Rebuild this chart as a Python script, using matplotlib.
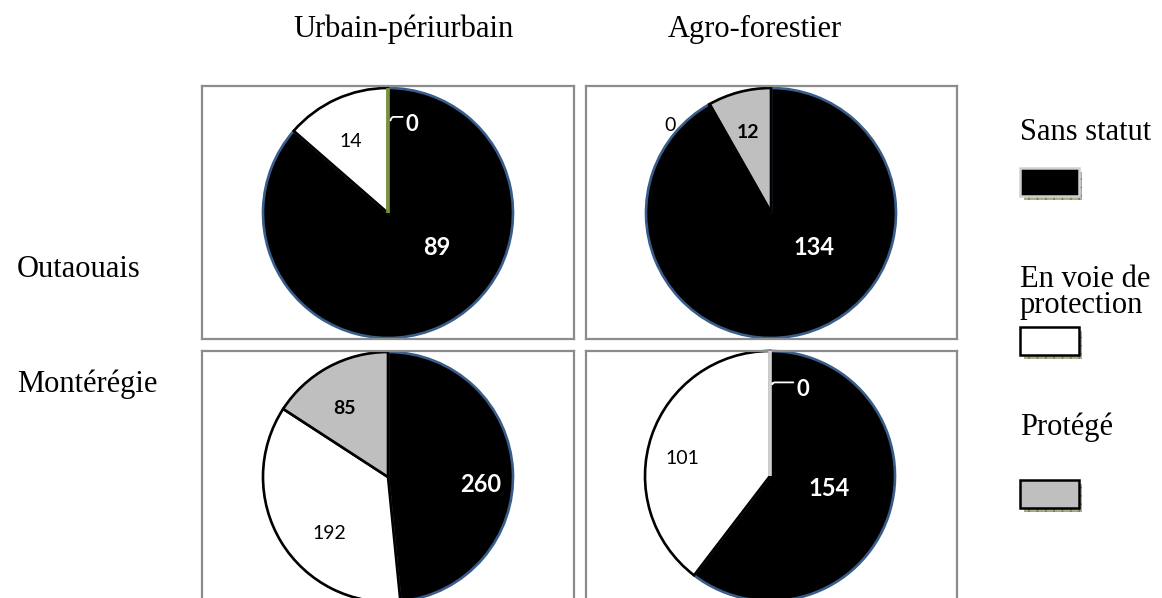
import matplotlib
matplotlib.use("Agg")
import matplotlib.pyplot as plt
import matplotlib.patches as mpatches
import numpy as np

# data
statuts = ["Sans statut", "En voie de\nprotection", "Protégé"]
colonnes = ["Urbain-périurbain", "Agro-forestier"]
regions = ["Outaouais", "Montérégie"]
outaouais_urbain = [89, 14, 0]
outaouais_agro = [134, 0, 12]
monteregie_urbain = [260, 192, 85]
monteregie_agro = [154, 101, 0]

W, H = 1162, 598
fig = plt.figure(figsize=(W / 100, H / 100), dpi=100)
fig.patch.set_facecolor("white")

SERIF = "Liberation Serif"
LABEL = "Lato"
fills = ["black", "white", "#bfbfbf"]
edges = ["#385d8a", "black", "black"]


def fx(x):
    return x / W


def fy(y):
    return 1 - y / H


def box_axes(x0, y0, x1, y1):
    ax = fig.add_axes([fx(x0), fy(y1), (x1 - x0) / W, (y1 - y0) / H])
    return ax


def draw_pie(ax, box, centre, values, zero_color, labels, r=125):
    x0, y0, x1, y1 = box
    cx, cy = centre
    wedges, _ = ax.pie(values, colors=fills, startangle=90, counterclock=False,
                       radius=1.0, normalize=True, frame=True,
                       wedgeprops=dict(linewidth=1.9))
    for i, w in enumerate(wedges):
        w.set_edgecolor(edges[i])
        if values[i] == 0:
            w.set_edgecolor(zero_color)
            w.set_linewidth(2.6)
            w.set_zorder(3)
    for (txt, x, y, color, weight, size, leader) in labels:
        if leader is None:
            ax.text(x, y, txt, color=color, fontweight=weight, fontsize=size,
                    family=LABEL, ha="center", va="center", zorder=5)
        else:
            ax.annotate(txt, xy=leader, xytext=(x, y), color=color,
                        fontweight=weight, fontsize=size, family=LABEL,
                        ha="center", va="center", zorder=5,
                        arrowprops=dict(arrowstyle="-", color=color, lw=1.3,
                                        shrinkA=0, shrinkB=0,
                                        relpos=(0.0, 0.85),
                                        connectionstyle="angle,angleA=0,angleB=70,rad=2"))
    ax.set_aspect("auto")
    ax.set_xlim((x0 - cx) / r, (x1 - cx) / r)
    ax.set_ylim(-(y1 - cy) / r, (cy - y0) / r)
    ax.set_xticks([])
    ax.set_yticks([])
    ax.set_frame_on(True)
    for s in ax.spines.values():
        s.set_visible(True)
        s.set_color("#8c8c8c")
        s.set_linewidth(1.6)


# Outaouais / urbain
box1 = (202, 86, 574, 339)
ax1 = box_axes(*box1)
draw_pie(ax1, box1, (388, 213), outaouais_urbain, "#77933c", [
    (str(outaouais_urbain[1]), -0.30, 0.57, "black", "normal", 14, None),
    (str(outaouais_urbain[0]), 0.39, -0.28, "white", "bold", 17, None),
    (str(outaouais_urbain[2]), 0.19, 0.71, "white", "bold", 16, (0.02, 0.74)),
])

# Outaouais / agro
box2 = (586, 86, 957, 339)
ax2 = box_axes(*box2)
draw_pie(ax2, box2, (771, 213), outaouais_agro, "black", [
    (str(outaouais_agro[1]), -0.81, 0.70, "black", "normal", 14, None),
    (str(outaouais_agro[2]), -0.18, 0.64, "black", "bold", 14, None),
    (str(outaouais_agro[0]), 0.34, -0.28, "white", "bold", 17, None),
])

# Montérégie / urbain
box3 = (202, 351, 574, 604)
ax3 = box_axes(*box3)
draw_pie(ax3, box3, (388, 477), monteregie_urbain, "black", [
    (str(monteregie_urbain[2]), -0.35, 0.55, "black", "bold", 14, None),
    (str(monteregie_urbain[0]), 0.74, -0.06, "white", "bold", 17, None),
    (str(monteregie_urbain[1]), -0.47, -0.45, "black", "normal", 14, None),
])

# Montérégie / agro
box4 = (586, 351, 957, 604)
ax4 = box_axes(*box4)
draw_pie(ax4, box4, (770, 476), monteregie_agro, "#d0d0d0", [
    (str(monteregie_agro[2]), 0.26, 0.69, "white", "bold", 16, (0.02, 0.74)),
    (str(monteregie_agro[1]), -0.70, 0.14, "black", "normal", 14, None),
    (str(monteregie_agro[0]), 0.47, -0.10, "white", "bold", 17, None),
])

# column titles and row labels
fig.text(fx(293), fy(37), colonnes[0], family=SERIF, fontsize=22, va="baseline")
fig.text(fx(668), fy(37), colonnes[1], family=SERIF, fontsize=22, va="baseline")
fig.text(fx(17), fy(277), regions[0], family=SERIF, fontsize=22, va="baseline")
fig.text(fx(17), fy(392), regions[1], family=SERIF, fontsize=22, va="baseline")

# legend
leg_text_y = [140, 313, 435]
leg_box_y = [168, 327, 480]
for i in range(3):
    fig.text(fx(1020), fy(leg_text_y[i]), statuts[i], family=SERIF, fontsize=22,
             va="baseline", linespacing=0.85)
    y0 = leg_box_y[i]
    shadow = mpatches.Rectangle((fx(1024), fy(y0 + 32)), 58 / W, 28 / H,
                                transform=fig.transFigure, facecolor="#a9b38f",
                                edgecolor="#6f7f4f", hatch="++", linewidth=0)
    fig.patches.append(shadow)
    rect = mpatches.Rectangle((fx(1020), fy(y0 + 28)), 59 / W, 28 / H,
                              transform=fig.transFigure, facecolor=fills[i],
                              edgecolor="#d0d0d0" if i == 0 else "black",
                              linewidth=1.8)
    fig.patches.append(rect)

fig.savefig("out.png", dpi=100)
